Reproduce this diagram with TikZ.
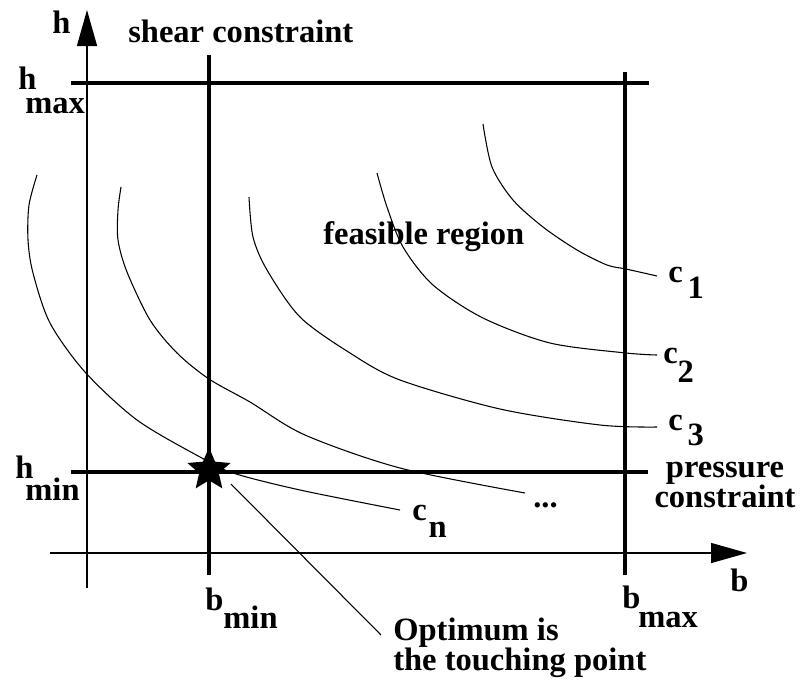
\documentclass[tikz,border=0pt]{standalone}
\usepackage{fontspec}
\setmainfont{Liberation Serif}
\usepackage{tikz}
\usetikzlibrary{arrows.meta, shapes.geometric}
\newlength{\pxu}
\setlength{\pxu}{0.75pt}
\newcommand{\subtxt}[4]{#1\kern#4\pxu\raisebox{-#3\pxu}{#2}}
\tikzset{
  axis/.style={line width=1pt, -{Triangle[length=27pt,width=15pt]}},
  cline/.style={line width=3pt},
  iso/.style={line width=0.8pt},
  leader/.style={line width=0.8pt},
  lbl/.style={inner sep=0pt, anchor=base west, font=\fontsize{24.4pt}{22.5pt}\selectfont\bfseries},
  optstar/.style={star, star points=5, star point ratio=2.2, fill=black, draw=none, minimum size=34pt, inner sep=0pt}
}
\begin{document}
\begin{tikzpicture}[x=0.75pt, y=-0.75pt]
  \useasboundingbox (0,0) rectangle (800,683);

  \coordinate (hfoot) at (87,588);
  \coordinate (htop) at (87,10);
  \coordinate (bfoot) at (50,553);
  \coordinate (btop) at (747,553);
  \draw[axis] (hfoot) -- (htop);
  \draw[axis] (bfoot) -- (btop);

  \draw[cline] (71,83) -- (649,83);
  \draw[cline] (71,472) -- (648,472);
  \draw[cline] (209,55) -- (209,575);
  \draw[cline] (625,72) -- (625,575);

  \draw[iso] plot[smooth] coordinates {(483,124) (492,167) (513,200) (543,227) (577,250) (607,265) (626,269) (657,276)};
  \draw[iso] plot[smooth] coordinates {(377,173) (387,207) (403,247) (433,285) (483,318) (550,343) (626,353) (657,355)};
  \draw[iso] plot[smooth] coordinates {(249,197) (253,237) (267,270) (300,317) (350,353) (400,380) (500,409) (600,425) (657,427)};
  \draw[iso] plot[smooth] coordinates {(121,187) (118,210) (118,240) (127,272) (150,320) (177,353) (209,379) (250,402) (305,435) (400,468) (525,493)};
  \draw[iso] plot[smooth] coordinates {(37,175) (29,205) (28,240) (33,273) (50,323) (85,372) (137,420) (200,457) (233,473) (300,490) (400,510)};

  \node[optstar] (star) at (209,470) {};

  \node[lbl] (hlbl) at (52,33) {h};
  \node[lbl] (shear) at (128,42) {shear constraint};
  \node[lbl] (hmax) at (18,89) {\subtxt{h}{max}{24}{-11}};
  \node[lbl] (hmin) at (15,478) {\subtxt{h}{min}{22}{-8}};
  \node[lbl] (bmin) at (205,610) {\subtxt{b}{min}{18}{0}};
  \node[lbl] (bmax) at (622,608) {\subtxt{b}{max}{19}{-2}};
  \node[lbl] (blbl) at (730,591) {b};
  \node[lbl] (feas) at (323,244) {feasible region};
  \node[lbl] (c1) at (668,282) {\subtxt{c}{1}{16}{5}};
  \node[lbl] (c2) at (663,363) {\subtxt{c}{2}{19}{0}};
  \node[lbl] (c3) at (668,430) {\subtxt{c}{3}{15}{5}};
  \node[lbl] (cn) at (412,520) {\subtxt{c}{n}{17}{2}};
  \node[lbl] (dots) at (533,507) {...};
  \node[lbl, anchor=base, align=center] (press) at (725,507) {pressure\\constraint};
  \node[lbl, align=left] (optlbl) at (393,670) {Optimum is\\the touching point};

  \coordinate (tipA) at (231,484);
  \coordinate (tipB) at (381,635);
  \draw[leader] (tipA) -- (tipB);
\end{tikzpicture}
\end{document}
